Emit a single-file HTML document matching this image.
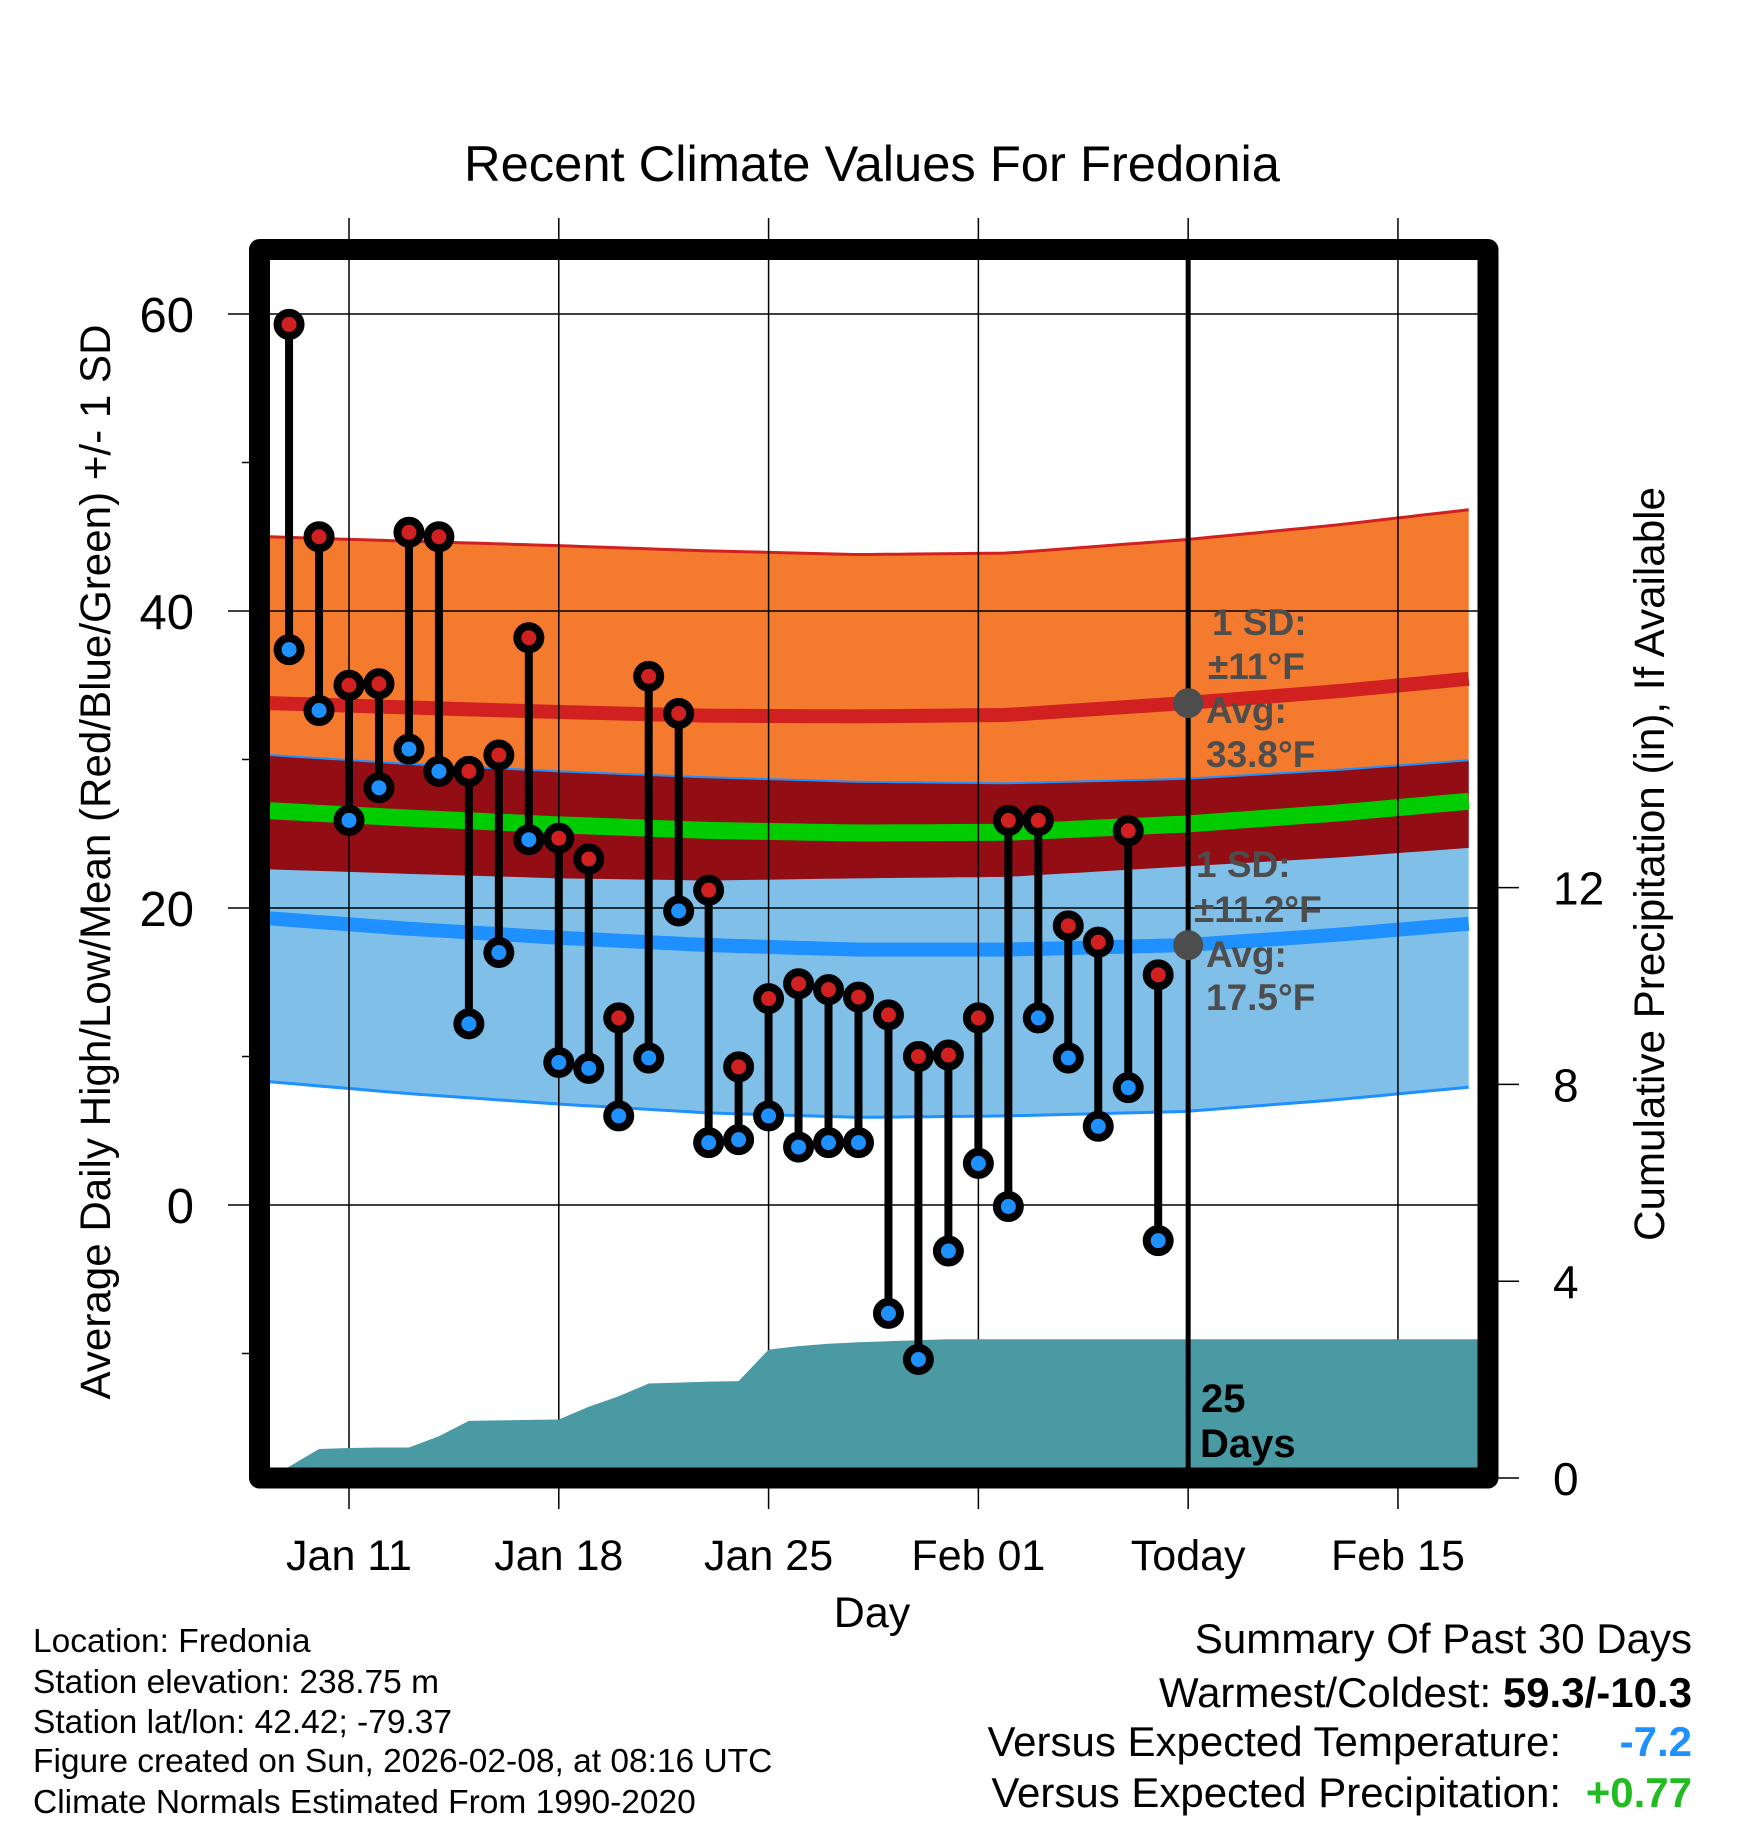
<!DOCTYPE html>
<html><head><meta charset="utf-8"><style>
html,body{margin:0;padding:0;background:#fff;}
svg{display:block;font-family:"Liberation Sans",Arial,sans-serif;}
</style></head><body>
<svg id="chart" width="1748" height="1828" viewBox="0 0 1748 1828" xmlns="http://www.w3.org/2000/svg">
<g id="bands"></g><g id="grid"></g><g id="precip"></g><g id="today"></g><g id="points"></g><g id="annot"></g><g id="frame"></g><g id="labels"></g>
</svg>
<script>
// ---- data ----
const obsDays = [-2,-1,0,1,2,3,4,5,6,7,8,9,10,11,12,13,14,15,16,17,18,19,20,21,22,23,24,25,26,27];
const highs = [59.3,45.0,35.0,35.1,45.3,45.0,29.2,30.3,38.2,24.7,23.3,12.6,35.6,33.1,21.2,9.3,13.9,14.9,14.5,14.0,12.8,10.0,10.1,12.6,25.9,25.9,18.8,17.7,25.2,15.5];
const lows = [37.4,33.3,25.9,28.1,30.7,29.2,12.2,17.0,24.6,9.6,9.2,6.0,9.9,19.8,4.2,4.4,6.0,3.9,4.2,4.2,-7.3,-10.4,-3.1,2.8,-0.1,12.6,9.9,5.3,7.9,-2.4];
const normDays = [-2.64,2,7,12,17,22,27.9,33,37.7];
const highAvg = [33.8,33.5,33.2,32.95,32.9,33.0,33.8,34.6,35.5];
const highSD = [11.2,11.2,11.2,11.1,10.9,10.9,11.0,11.2,11.4];
const lowAvg = [19.3,18.6,18.0,17.5,17.2,17.2,17.5,18.2,19.0];
const lowSD = [11.0,11.1,11.2,11.3,11.3,11.2,11.2,11.1,11.0];
const precipDays = [-2.64,-1,0,1,2,3,4,5,6,7,8,9,10,11,12,13,14,15,16,17,18,19,20,37.7];
const precipCum = [0,0.59,0.61,0.62,0.62,0.85,1.16,1.17,1.18,1.19,1.45,1.66,1.92,1.94,1.96,1.97,2.61,2.68,2.73,2.76,2.78,2.80,2.82,2.82];
const xTickDays = [0,7,14,21,28,35];
const xTickLabels = ["Jan 11","Jan 18","Jan 25","Feb 01","Today","Feb 15"];
const yTicks = [60,40,20,0];
const yMinor = [50,30,10,-10];
const pTicks = [0,4,8,12];
const todayDay = 28;

// ---- scales ----
const X0=270,X1=1478,Y0=260,Y1=1468;
const x = d => 349 + 29.97*d;
const y = t => 1205 - 14.85*t;
const yp = p => 1478 - 49.2*p;
const NS="http://www.w3.org/2000/svg";
function mk(tag, parent, attrs){const e=document.createElementNS(NS,tag);for(const k in attrs)e.setAttribute(k,attrs[k]);parent.appendChild(e);return e;}
function interp(arr, d){for(let i=0;i<normDays.length-1;i++){if(d<=normDays[i+1]){const f=(d-normDays[i])/(normDays[i+1]-normDays[i]);return arr[i]+f*(arr[i+1]-arr[i]);}}return arr[arr.length-1];}
const fine=[];for(let d=-2.64;d<=37.71;d+=0.5)fine.push(Math.min(d,37.7));
const ser = f => fine.map(d=>[x(d),y(f(d))]);
const path = pts => pts.map((p,i)=>(i?'L':'M')+p[0].toFixed(1)+','+p[1].toFixed(1)).join(' ');
const hA=d=>interp(highAvg,d), hS=d=>interp(highSD,d), lA=d=>interp(lowAvg,d), lS=d=>interp(lowSD,d);

const bands=document.getElementById('bands');
let e;
const hiUp=ser(d=>hA(d)+hS(d)), hiLo=ser(d=>hA(d)-hS(d)), loUp=ser(d=>lA(d)+lS(d)), loLo=ser(d=>lA(d)-lS(d));
e=mk('path',bands,{d:path(hiUp)+' '+path(hiLo.slice().reverse()).replace('M','L')+' Z',fill:'#f47a2d'});


e=mk('path',bands,{d:path(loUp)+' '+path(loLo.slice().reverse()).replace('M','L')+' Z',fill:'#80c0e8'});


e=mk('path',bands,{d:path(loUp)+' '+path(hiLo.slice().reverse()).replace('M','L')+' Z',fill:'#920d14'});


e=mk('path',bands,{d:path(hiUp),fill:'none',stroke:'#d02020','stroke-width':3});


e=mk('path',bands,{d:path(loUp),fill:'none',stroke:'#1e90ff','stroke-width':2});


e=mk('path',bands,{d:path(loLo),fill:'none',stroke:'#1e90ff','stroke-width':3});


e=mk('path',bands,{d:path(ser(hA)),fill:'none',stroke:'#d02020','stroke-width':14});


e=mk('path',bands,{d:path(ser(lA)),fill:'none',stroke:'#1e90ff','stroke-width':14});


e=mk('path',bands,{d:path(ser(d=>(hA(d)+lA(d))/2)),fill:'none',stroke:'#00cc00','stroke-width':17});



// grid
const grid=document.getElementById('grid');
yTicks.forEach(t=>{e=mk('line',grid,{x1:228,x2:X1,y1:y(t),y2:y(t),stroke:'#000','stroke-width':1.5});

});
yMinor.forEach(t=>{e=mk('line',grid,{x1:242,x2:X0,y1:y(t),y2:y(t),stroke:'#000','stroke-width':1.5});

});
xTickDays.forEach(d=>{e=mk('line',grid,{x1:x(d),x2:x(d),y1:218,y2:1509,stroke:'#000','stroke-width':1.5});

});
pTicks.forEach(p=>{e=mk('line',grid,{x1:1488,x2:1519,y1:yp(p),y2:yp(p),stroke:'#000','stroke-width':1.5});

});

// precip
const pr=document.getElementById('precip');
const pp=precipDays.map((d,i)=>[x(d),yp(precipCum[i])]);
e=mk('path',pr,{d:path(pp)+` L${x(37.7)},${Y1} L${x(-2.64)},${Y1} Z`,fill:'#4a9aa4'});



// today
const td=document.getElementById('today');
e=mk('line',td,{x1:x(todayDay),x2:x(todayDay),y1:Y0,y2:Y1,stroke:'#000','stroke-width':5});



// points
const pg=document.getElementById('points');
obsDays.forEach((d,i)=>{
 e=mk('line',pg,{x1:x(d),x2:x(d),y1:y(highs[i]),y2:y(lows[i]),stroke:'#000','stroke-width':8});
 
 
 e=mk('circle',pg,{cx:x(d),cy:y(highs[i]),r:11.5,fill:'#d02020',stroke:'#000','stroke-width':8});
 
 
 e=mk('circle',pg,{cx:x(d),cy:y(lows[i]),r:11.5,fill:'#1e90ff',stroke:'#000','stroke-width':8});
 
 
});

// annotations
const an=document.getElementById('annot');
e=mk('circle',an,{cx:x(todayDay),cy:y(33.8),r:15,fill:'#4d4d4d'});


e=mk('circle',an,{cx:x(todayDay),cy:y(17.5),r:15,fill:'#4d4d4d'});



// frame
const fr=document.getElementById('frame');
e=mk('rect',fr,{x:259.5,y:249.5,width:1228.5,height:1228.5,fill:'none',stroke:'#000','stroke-width':21,'stroke-linejoin':'round'});



// tick labels
const lb=document.getElementById('labels');
xTickDays.forEach((d,i)=>{e=mk('text',lb,{x:x(d),y:1570,'font-size':43,'text-anchor':'middle'});e.textContent=xTickLabels[i];

});
yTicks.forEach(t=>{e=mk('text',lb,{x:194,y:y(t)+18,'font-size':49,'text-anchor':'end'});e.textContent=t;

});
pTicks.forEach(p=>{e=mk('text',lb,{x:1553,y:yp(p)+17,'font-size':46});e.textContent=p;

});
</script>
<svg width="1748" height="1828" style="position:absolute;left:0;top:0" xmlns="http://www.w3.org/2000/svg">
<g font-family="Liberation Sans, Arial, sans-serif">
<text x="872" y="181" font-size="50" text-anchor="middle" textLength="816" lengthAdjust="spacingAndGlyphs">Recent Climate Values For Fredonia</text>
<text transform="translate(110,862) rotate(-90)" font-size="43" text-anchor="middle" textLength="1075" lengthAdjust="spacingAndGlyphs">Average Daily High/Low/Mean (Red/Blue/Green) +/- 1 SD</text>
<text transform="translate(1664,864) rotate(-90)" font-size="43" text-anchor="middle" textLength="754" lengthAdjust="spacingAndGlyphs">Cumulative Precipitation (in), If Available</text>
<text x="872" y="1627" font-size="43" text-anchor="middle">Day</text>
<g font-weight="bold" font-size="37" fill="#4d4d4d">
<text x="1212" y="635">1 SD:</text><text x="1208" y="679">±11°F</text><text x="1206" y="723">Avg:</text><text x="1206" y="767">33.8°F</text></g>
<g font-weight="bold" font-size="37" fill="#4d4d4d">
<text x="1196" y="877">1 SD:</text><text x="1194" y="922">±11.2°F</text><text x="1206" y="967">Avg:</text><text x="1206" y="1010">17.5°F</text></g>
<g font-weight="bold" font-size="40" fill="#000">
<text x="1201" y="1412">25</text><text x="1200" y="1457">Days</text></g>
<g font-size="33.5">
<text x="33" y="1652">Location: Fredonia</text>
<text x="33" y="1693">Station elevation: 238.75 m</text>
<text x="33" y="1733">Station lat/lon: 42.42; -79.37</text>
<text x="33" y="1772">Figure created on Sun, 2026-02-08, at 08:16 UTC</text>
<text x="33" y="1813">Climate Normals Estimated From 1990-2020</text></g>
<g font-size="42">
<text x="1692" y="1653" text-anchor="end">Summary Of Past 30 Days</text>
<text x="1692" y="1707" text-anchor="end">Warmest/Coldest: <tspan font-weight="bold">59.3/-10.3</tspan></text>
<text x="1561" y="1756" text-anchor="end">Versus Expected Temperature:</text>
<text x="1692" y="1756" text-anchor="end" font-weight="bold" fill="#1e90ff">-7.2</text>
<text x="1561" y="1807" text-anchor="end">Versus Expected Precipitation:</text>
<text x="1692" y="1807" text-anchor="end" font-weight="bold" fill="#22bb22">+0.77</text></g>
</g></svg>
</body></html>
